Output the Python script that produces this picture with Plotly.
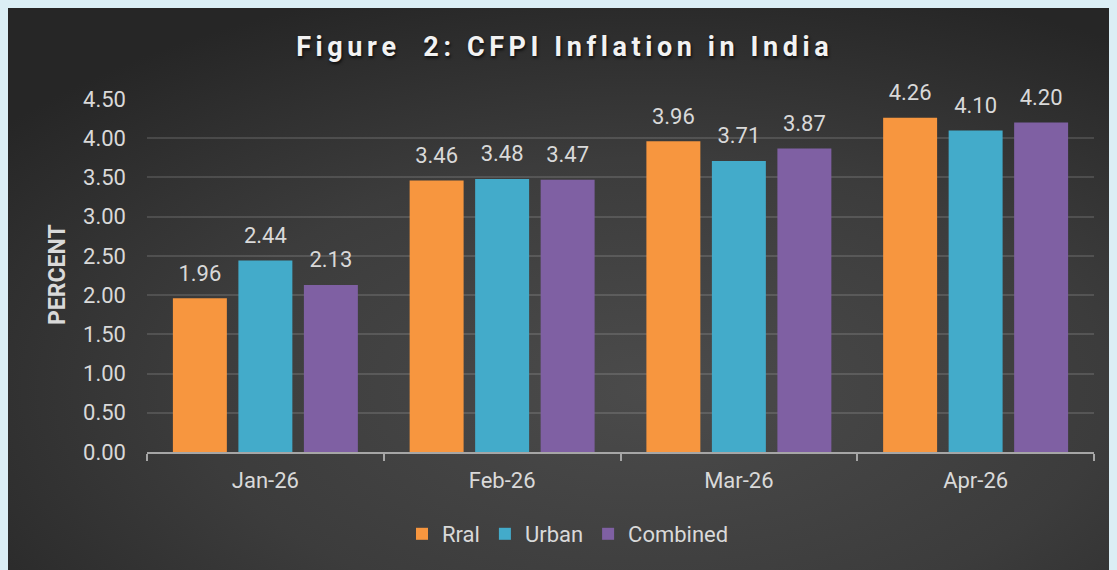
import base64
import plotly.graph_objects as go

months = ["Jan-26", "Feb-26", "Mar-26", "Apr-26"]
rural = [1.96, 3.46, 3.96, 4.26]
urban = [2.44, 3.48, 3.71, 4.10]
combined = [2.13, 3.47, 3.87, 4.20]
series_names = ["Rral", "Urban", "Combined"]
colors = ["#f7963f", "#43abca", "#7f60a3"]
y_ticks = [0, 0.5, 1, 1.5, 2, 2.5, 3, 3.5, 4, 4.5]
title_text = "Figure  2: CFPI Inflation in India"

FONT = "Roboto"
TXT = "#d9d9d9"
BARGAP = 0.17

fig = go.Figure()
for i, (name, vals, col) in enumerate(zip(series_names, [rural, urban, combined], colors)):
    fig.add_trace(go.Bar(
        x=months, y=vals, name=name, offsetgroup=str(i), alignmentgroup="a",
        marker=dict(color=col, line=dict(width=0)),
        hoverinfo="x+y",
    ))
for i, (name, vals) in enumerate(zip(series_names, [rural, urban, combined])):
    fig.add_trace(go.Scatter(
        x=months, y=vals, mode="markers+text", offsetgroup=str(i), alignmentgroup="a",
        marker=dict(size=18, color="rgba(0,0,0,0)"),
        text=[f"{v:.2f}" for v in vals], textposition="top center",
        textfont=dict(color=TXT, size=22, family=FONT),
        showlegend=False, hoverinfo="skip", cliponaxis=False,
    ))

W, H = 1109, 562
svg = (
    f'<svg xmlns="http://www.w3.org/2000/svg" width="{W}" height="{H}" preserveAspectRatio="none">'
    '<defs><radialGradient id="g" cx="58%" cy="68%" r="75%">'
    '<stop offset="0%" stop-color="#4b4b4b"/>'
    '<stop offset="55%" stop-color="#3c3c3c"/>'
    '<stop offset="100%" stop-color="#262626"/>'
    '</radialGradient></defs>'
    f'<rect width="{W}" height="{H}" fill="url(#g)"/></svg>'
)
src = "data:image/svg+xml;base64," + base64.b64encode(svg.encode()).decode()

L, R, T, B = 139, 23, 91, 118
PW, PH = W - L - R, H - T - B

def px_x(p):
    return (p - L) / PW

def px_y(p):
    return (H - B - p) / PH

fig.add_layout_image(dict(
    source=src, xref="paper", yref="paper",
    x=px_x(0), y=px_y(0), sizex=W / PW, sizey=H / PH,
    xanchor="left", yanchor="top", sizing="stretch", layer="below",
))

fig.add_annotation(
    text="<b>PERCENT</b>", textangle=-90, xref="paper", yref="paper",
    x=px_x(49), y=px_y(267), xanchor="center", yanchor="middle", showarrow=False,
    font=dict(color=TXT, size=23, family=FONT),
)

spaced_title = "\u2006".join(title_text)

fig.update_layout(
    width=W, height=H,
    margin=dict(l=L, r=R, t=T, b=B),
    paper_bgcolor="#333333",
    plot_bgcolor="rgba(0,0,0,0)",
    barmode="group", bargap=BARGAP, bargroupgap=0.176,
    scattermode="group", scattergap=BARGAP,
    title=dict(
        text=f"<b>{spaced_title}</b>",
        x=0.5, xanchor="center", xref="container",
        y=1 - 39 / H, yanchor="middle", yref="container",
        font=dict(color="#f2f2f2", size=27, family=FONT,
                  shadow="1px 2px 3px rgba(0,0,0,0.7)"),
    ),
    font=dict(family=FONT, color=TXT, size=22),
    legend=dict(
        orientation="h", x=px_x(560), xanchor="center", y=px_y(526), yanchor="middle",
        font=dict(color=TXT, size=22, family=FONT), bgcolor="rgba(0,0,0,0)",
        traceorder="normal", itemwidth=30,
    ),
    xaxis=dict(
        showline=True, linecolor="#a6a6a6", linewidth=2,
        ticks="outside", tickson="boundaries", ticklen=7, tickcolor="#a6a6a6", tickwidth=2,
        tickfont=dict(color=TXT, size=22, family=FONT),
        showgrid=False, ticklabelstandoff=8,
    ),
    yaxis=dict(
        range=[0, 4.5], tickvals=y_ticks, tickformat=".2f",
        showgrid=True, gridcolor="rgba(255,255,255,0.13)", gridwidth=1.5,
        zeroline=False, showline=False,
        tickfont=dict(color=TXT, size=22, family=FONT),
        ticklabelstandoff=20,
    ),
)

fig.write_html("out.html", post_script="document.body.style.background='#dbeef5';")
